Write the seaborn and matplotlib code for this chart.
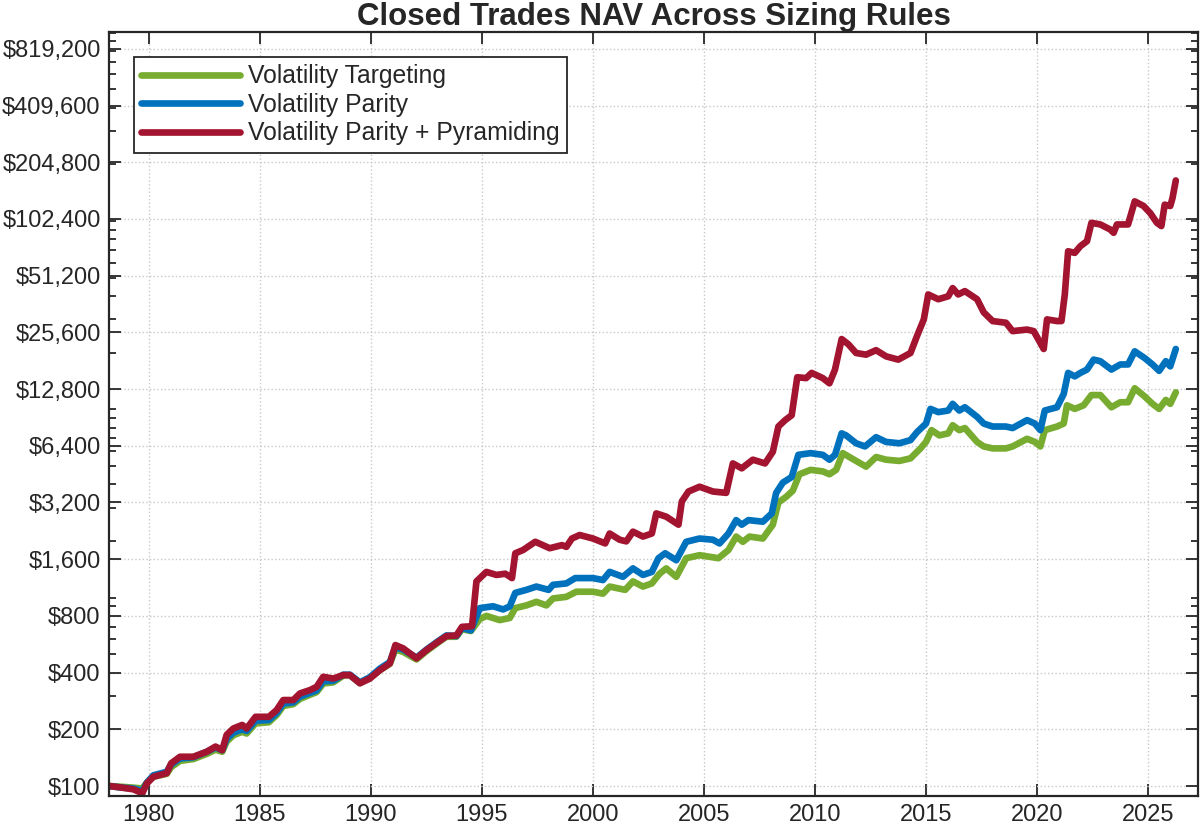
import numpy as np
import pandas as pd
import matplotlib
matplotlib.use("Agg")
import matplotlib.pyplot as plt
from matplotlib.ticker import FixedLocator, FuncFormatter, NullFormatter
import seaborn as sns

# ---------------- data ----------------
series_names = ["Volatility Targeting", "Volatility Parity", "Volatility Parity + Pyramiding"]

targeting_years = [1978.2, 1978.8, 1979.3, 1979.7, 1979.9, 1980.2, 1980.8, 1981.0, 1981.4, 1982.0,
                   1982.6, 1983.0, 1983.3, 1983.5, 1983.8, 1984.2, 1984.4, 1984.8, 1985.4, 1985.75,
                   1986.05, 1986.5, 1986.8, 1987.25, 1987.55, 1987.85, 1988.3, 1988.75, 1989.05, 1989.5,
                   1989.95, 1990.4, 1990.85, 1991.1, 1991.45, 1992.05, 1992.5, 1993.0, 1993.4, 1993.85,
                   1994.1, 1994.5, 1994.9, 1995.2, 1995.8, 1996.25, 1996.5, 1997.0, 1997.45, 1997.9,
                   1998.2, 1998.8, 1999.25, 2000.0, 2000.45, 2000.75, 2001.45, 2001.8, 2002.25, 2002.65,
                   2003.0, 2003.3, 2003.75, 2004.2, 2004.8, 2005.65, 2006.1, 2006.45, 2006.75, 2007.05,
                   2007.65, 2008.1, 2008.35, 2008.7, 2009.0, 2009.3, 2009.8, 2010.35, 2010.65, 2010.95,
                   2011.25, 2011.85, 2012.3, 2012.75, 2013.2, 2013.8, 2014.3, 2014.75, 2015.0, 2015.25,
                   2015.6, 2016.0, 2016.2, 2016.5, 2016.75, 2017.3, 2017.6, 2018.0, 2018.6, 2018.9,
                   2019.55, 2019.9, 2020.15, 2020.35, 2020.9, 2021.2, 2021.35, 2021.7, 2022.1, 2022.45,
                   2022.85, 2023.35, 2023.75, 2024.1, 2024.4, 2024.85, 2025.2, 2025.5, 2025.8, 2026.0,
                   2026.25]
targeting_nav = [100, 99, 98, 97, 104, 112, 116, 126, 136, 139,
                 148, 156, 152, 172, 186, 194, 190, 215, 218, 238,
                 266, 272, 290, 305, 315, 350, 355, 385, 388, 352,
                 375, 412, 445, 530, 515, 470, 520, 575, 620, 620,
                 680, 665, 770, 800, 760, 780, 880, 910, 950, 910,
                 990, 1010, 1075, 1075, 1050, 1145, 1100, 1220, 1145, 1190,
                 1340, 1430, 1290, 1620, 1680, 1620, 1790, 2110, 1980, 2110,
                 2060, 2440, 3200, 3430, 3700, 4520, 4770, 4680, 4520, 4770,
                 5850, 5320, 4960, 5580, 5400, 5320, 5490, 6200, 6710, 7750,
                 7270, 7450, 8230, 7750, 7950, 6710, 6350, 6200, 6200, 6350,
                 6970, 6710, 6350, 7750, 8100, 8400, 10500, 10050, 10500, 11900,
                 11900, 10250, 10900, 10900, 12930, 11690, 10690, 10050, 11210, 10690,
                 12300]

parity_years = [1978.2, 1978.8, 1979.3, 1979.7, 1979.9, 1980.2, 1980.8, 1981.0, 1981.4, 1982.0,
                1982.6, 1983.0, 1983.3, 1983.5, 1983.8, 1984.2, 1984.4, 1984.8, 1985.4, 1985.75,
                1986.05, 1986.5, 1986.8, 1987.25, 1987.55, 1987.85, 1988.3, 1988.75, 1989.05, 1989.5,
                1989.95, 1990.4, 1990.85, 1991.1, 1991.45, 1992.05, 1992.5, 1993.0, 1993.4, 1993.85,
                1994.1, 1994.5, 1994.9, 1995.5, 1995.95, 1996.25, 1996.5, 1997.0, 1997.45, 1998.0,
                1998.2, 1998.8, 1999.2, 2000.0, 2000.45, 2000.75, 2001.35, 2001.8, 2002.25, 2002.65,
                2002.95, 2003.25, 2003.75, 2004.2, 2004.8, 2005.4, 2005.7, 2006.1, 2006.45, 2006.7,
                2007.0, 2007.65, 2008.05, 2008.25, 2008.55, 2008.95, 2009.25, 2009.8, 2010.35, 2010.65,
                2010.9, 2011.2, 2011.4, 2011.85, 2012.25, 2012.75, 2013.2, 2013.8, 2014.3, 2014.6,
                2015.0, 2015.2, 2015.55, 2016.0, 2016.2, 2016.5, 2016.75, 2017.3, 2017.6, 2018.0,
                2018.6, 2018.9, 2019.55, 2019.9, 2020.15, 2020.35, 2020.9, 2021.2, 2021.4, 2021.7,
                2021.95, 2022.25, 2022.55, 2022.85, 2023.35, 2023.75, 2024.1, 2024.4, 2024.85, 2025.2,
                2025.5, 2025.8, 2026.0, 2026.25]
parity_nav = [100, 98, 97, 94, 104, 114, 119, 130, 140, 142,
              152, 160, 155, 178, 192, 200, 196, 222, 224, 244,
              274, 278, 298, 312, 322, 360, 362, 390, 390, 355,
              378, 420, 455, 545, 530, 480, 530, 585, 630, 625,
              690, 670, 880, 900, 866, 898, 1060, 1100, 1145, 1100,
              1170, 1190, 1270, 1270, 1240, 1370, 1290, 1430, 1320, 1370,
              1620, 1720, 1580, 1980, 2060, 2030, 1940, 2190, 2580, 2440,
              2580, 2530, 2800, 3600, 4080, 4370, 5730, 5850, 5730, 5400,
              5730, 7450, 7270, 6600, 6350, 7110, 6710, 6600, 6860, 7580,
              8400, 10050, 9660, 9850, 10690, 9850, 10250, 9120, 8400, 8100,
              8100, 7950, 8760, 8400, 7750, 9850, 10250, 12050, 15600, 14950,
              15600, 16250, 18350, 18000, 16250, 17300, 17300, 20300, 18700, 17300,
              16000, 18000, 16900, 20900]

pyramiding_years = [1978.2, 1978.8, 1979.3, 1979.7, 1979.9, 1980.2, 1980.8, 1981.0, 1981.4, 1982.0,
                    1982.6, 1983.0, 1983.3, 1983.5, 1983.8, 1984.2, 1984.4, 1984.8, 1985.4, 1985.75,
                    1986.05, 1986.5, 1986.8, 1987.25, 1987.55, 1987.85, 1988.3, 1988.75, 1989.05, 1989.5,
                    1989.95, 1990.4, 1990.85, 1991.1, 1991.45, 1992.05, 1992.5, 1993.0, 1993.4, 1993.85,
                    1994.1, 1994.55, 1994.75, 1995.2, 1995.65, 1996.05, 1996.35, 1996.5, 1996.85, 1997.4,
                    1998.05, 1998.6, 1998.8, 1999.05, 1999.4, 2000.0, 2000.55, 2000.75, 2001.2, 2001.5,
                    2001.8, 2002.25, 2002.65, 2002.85, 2003.3, 2003.85, 2004.0, 2004.3, 2004.8, 2005.4,
                    2006.0, 2006.3, 2006.7, 2007.2, 2007.75, 2008.1, 2008.35, 2008.65, 2008.95, 2009.2,
                    2009.6, 2009.85, 2010.35, 2010.65, 2010.9, 2011.2, 2011.5, 2011.85, 2012.3, 2012.75,
                    2013.2, 2013.75, 2014.3, 2014.6, 2014.9, 2015.1, 2015.55, 2016.0, 2016.2, 2016.45,
                    2016.75, 2017.3, 2017.6, 2018.0, 2018.6, 2018.9, 2019.55, 2019.85, 2020.05, 2020.3,
                    2020.45, 2020.9, 2021.1, 2021.25, 2021.4, 2021.7, 2021.95, 2022.25, 2022.45, 2022.85,
                    2023.3, 2023.45, 2023.6, 2024.1, 2024.4, 2024.8, 2025.1, 2025.4, 2025.6, 2025.75,
                    2026.0, 2026.1, 2026.25]
pyramiding_nav = [100, 98, 96, 91.5, 103, 112, 117, 132, 143, 143,
                  152, 162, 155, 187, 202, 211, 202, 233, 233, 253,
                  286, 286, 310, 323, 336, 380, 372, 388, 388, 351,
                  372, 412, 448, 560, 538, 476, 527, 580, 625, 630,
                  700, 705, 1220, 1370, 1320, 1340, 1270, 1720, 1790, 1980,
                  1830, 1900, 1860, 2060, 2150, 2060, 1940, 2190, 2030, 1990,
                  2240, 2110, 2190, 2800, 2690, 2440, 3240, 3660, 3880, 3660,
                  3600, 5160, 4860, 5400, 5160, 5950, 8100, 8750, 9300, 14800,
                  14640, 15600, 14640, 13740, 16250, 23600, 22150, 19900, 19500, 20600,
                  19100, 18350, 19900, 24600, 30000, 40700, 38400, 39800, 44000, 40700,
                  42400, 38400, 32700, 29400, 28800, 26000, 26500, 26000, 23600, 20900,
                  30000, 29400, 29400, 40700, 69000, 67700, 73400, 78100, 97700, 95800,
                  90000, 86500, 95800, 95800, 127000, 120000, 110000, 97700, 93900, 122000,
                  120000, 132000, 164000]

series_colors = ["#77AC30", "#0072BD", "#A2142F"]
x_ticks = [1980, 1985, 1990, 1995, 2000, 2005, 2010, 2015, 2020, 2025]
y_ticks = [100 * 2 ** k for k in range(14)]
title_text = "Closed Trades NAV Across Sizing Rules"

# ---------------- build long-form table ----------------
frames = []
for name, yrs, vals in zip(series_names,
                           [targeting_years, parity_years, pyramiding_years],
                           [targeting_nav, parity_nav, pyramiding_nav]):
    frames.append(pd.DataFrame({"Year": yrs, "NAV": vals, "Rule": name}))
df = pd.concat(frames, ignore_index=True)

# ---------------- styling ----------------
sns.set_theme(style="white")
plt.rcParams["font.family"] = ["Liberation Sans", "DejaVu Sans"]
text_color = "#262626"
plt.rcParams["text.color"] = text_color
plt.rcParams["axes.labelcolor"] = text_color
plt.rcParams["xtick.color"] = text_color
plt.rcParams["ytick.color"] = text_color

fig = plt.figure(figsize=(12, 8.24), dpi=100)
ax = fig.add_axes([109 / 1200, 28 / 824, 1089 / 1200, 764 / 824])

sns.lineplot(data=df, x="Year", y="NAV", hue="Rule", hue_order=series_names,
             palette=series_colors, estimator=None, sort=True, linewidth=4.8,
             ax=ax, legend=True)

ax.set_yscale("log", base=2)
ax.set_xlim(1978.2, 2027.25)
ax.set_ylim(88.5, 1.007e6)

ax.xaxis.set_major_locator(FixedLocator(x_ticks))
ax.xaxis.set_minor_locator(FixedLocator([]))
ax.yaxis.set_major_locator(FixedLocator(y_ticks))
ax.yaxis.set_major_formatter(FuncFormatter(lambda v, p: f"${v:,.0f}"))
minor_y = [k * 10 ** n for n in range(2, 7) for k in range(1, 10)]
ax.yaxis.set_minor_locator(FixedLocator(minor_y))
ax.yaxis.set_minor_formatter(NullFormatter())

ax.set_xlabel("")
ax.set_ylabel("")

ax.tick_params(which="both", direction="in", top=True, right=True,
               bottom=True, left=True, width=1.3, colors=text_color,
               labelsize=17)
ax.tick_params(which="major", length=8.4, pad=6)
ax.tick_params(which="minor", length=4.8)
ax.tick_params(axis="x", which="minor", length=0)

for s in ax.spines.values():
    s.set_color(text_color)
    s.set_linewidth(1.6)
    s.set_visible(True)

ax.grid(True, which="major", linestyle=":", color="#c8c8c8", linewidth=1.0)
ax.set_axisbelow(True)

ax.set_title(title_text, fontsize=22.5, fontweight="bold", color=text_color, pad=5)

handles, labels = ax.get_legend_handles_labels()
leg = ax.legend(handles, labels, loc="upper left", bbox_to_anchor=(25 / 1089, 1 - 25 / 764),
                borderaxespad=0, fontsize=17.8, handlelength=4.0, handletextpad=0.3,
                labelspacing=0.18, borderpad=0.3, fancybox=False, framealpha=1,
                edgecolor=text_color)
leg.get_frame().set_linewidth(1.3)
for line in leg.get_lines():
    line.set_linewidth(4.8)

fig.savefig("out.png", dpi=100)
